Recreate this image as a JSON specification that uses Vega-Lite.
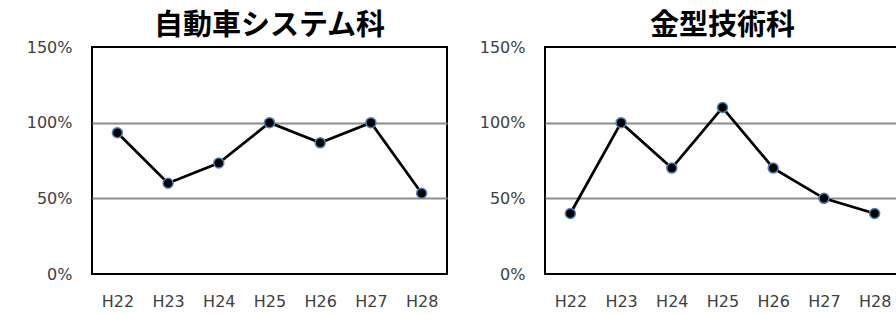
{
  "$schema": "https://vega.github.io/schema/vega-lite/v6.json",
  "padding": {"left": 25, "top": 11, "right": 0, "bottom": 0},
  "background": "white",
  "config": {
    "view": {"stroke": "#000000", "strokeWidth": 2},
    "title": {"font": "Noto Sans CJK JP", "fontSize": 29, "fontWeight": "bold", "color": "#000000", "offset": -2},
    "axis": {"labelFont": "DejaVu Sans", "labelFontSize": 16, "labelColor": "#404040", "ticks": false, "domain": false, "title": null}
  },
  "data": {"values": [
    {"dept": "自動車システム科", "year": "H22", "rate": 0.9333},
    {"dept": "自動車システム科", "year": "H23", "rate": 0.6},
    {"dept": "自動車システム科", "year": "H24", "rate": 0.7333},
    {"dept": "自動車システム科", "year": "H25", "rate": 1.0},
    {"dept": "自動車システム科", "year": "H26", "rate": 0.8667},
    {"dept": "自動車システム科", "year": "H27", "rate": 1.0},
    {"dept": "自動車システム科", "year": "H28", "rate": 0.5333},
    {"dept": "金型技術科", "year": "H22", "rate": 0.4},
    {"dept": "金型技術科", "year": "H23", "rate": 1.0},
    {"dept": "金型技術科", "year": "H24", "rate": 0.7},
    {"dept": "金型技術科", "year": "H25", "rate": 1.1},
    {"dept": "金型技術科", "year": "H26", "rate": 0.7},
    {"dept": "金型技術科", "year": "H27", "rate": 0.5},
    {"dept": "金型技術科", "year": "H28", "rate": 0.4}
  ]},
  "spacing": 30,
  "hconcat": [
    {
      "title": "自動車システム科",
      "width": 355,
      "height": 227,
      "transform": [{"filter": "datum.dept === '自動車システム科'"}],
      "encoding": {
        "x": {"field": "year", "type": "ordinal", "axis": {"labelAngle": 0, "labelPadding": 19}},
        "y": {"field": "rate", "type": "quantitative", "scale": {"domain": [0, 1.5]},
              "axis": {"values": [0, 0.5, 1, 1.5], "format": "%", "labelPadding": 20, "grid": true, "gridWidth": 2,
                       "gridColor": {"condition": {"test": "datum.value === 0.5 || datum.value === 1", "value": "#8c8c8c"}, "value": "transparent"}}}
      },
      "layer": [
        {"mark": {"type": "line", "color": "#000000", "strokeWidth": 2.75}},
        {"mark": {"type": "point", "filled": true, "fill": "#000000", "stroke": "#4f81bd", "strokeWidth": 1.5, "size": 100, "opacity": 1}}
      ]
    },
    {
      "title": "金型技術科",
      "width": 355,
      "height": 227,
      "transform": [{"filter": "datum.dept === '金型技術科'"}],
      "encoding": {
        "x": {"field": "year", "type": "ordinal", "axis": {"labelAngle": 0, "labelPadding": 19}},
        "y": {"field": "rate", "type": "quantitative", "scale": {"domain": [0, 1.5]},
              "axis": {"values": [0, 0.5, 1, 1.5], "format": "%", "labelPadding": 20, "grid": true, "gridWidth": 2,
                       "gridColor": {"condition": {"test": "datum.value === 0.5 || datum.value === 1", "value": "#8c8c8c"}, "value": "transparent"}}}
      },
      "layer": [
        {"mark": {"type": "line", "color": "#000000", "strokeWidth": 2.75}},
        {"mark": {"type": "point", "filled": true, "fill": "#000000", "stroke": "#4f81bd", "strokeWidth": 1.5, "size": 100, "opacity": 1}}
      ]
    }
  ]
}
